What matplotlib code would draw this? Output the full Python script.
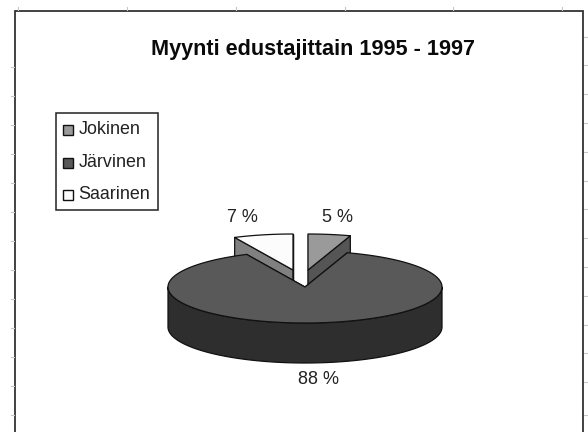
import numpy as np
import matplotlib
matplotlib.use("Agg")
import matplotlib.pyplot as plt
from matplotlib.patches import Polygon, Rectangle

names = ["Jokinen", "Järvinen", "Saarinen"]
values = [5, 88, 7]
pct_labels = ["5 %", "88 %", "7 %"]
title = "Myynti edustajittain 1995 - 1997"

top_colors = ["#9a9a9a", "#595959", "#fcfcfc"]
wall_colors = ["#555555", "#2e2e2e", "#808080"]
centers = [(308, 270), (305, 287), (293, 270)]
label_pos = [(337, 217), (318, 380), (242, 218)]
RX, RY, DEPTH = 137, 36, 40
EDGE = "#111111"

plt.rcParams["font.family"] = ["Liberation Sans", "DejaVu Sans"]
fig = plt.figure(figsize=(5.88, 4.32), dpi=100, facecolor="white")
ax = fig.add_axes([0, 0, 1, 1])
ax.set_xlim(0, 588)
ax.set_ylim(432, 0)
ax.axis("off")

# frame of the chart object and the sheet's faint grid stubs
ax.add_patch(Rectangle((15, 11), 568, 430, fc="white", ec="#333333", lw=1.3))
for x in (18, 127, 236, 345, 453, 562):
    ax.plot([x, x], [7, 10], color="#c8c8c8", lw=0.8)
for y in (67, 96, 125, 154, 183, 212, 241, 270, 299, 328, 357, 386, 415):
    ax.plot([11, 14], [y, y], color="#c8c8c8", lw=0.8)
for y in (37, 65, 94, 123, 152, 181, 209, 238, 267, 296, 325, 353, 382, 415):
    ax.plot([584, 588], [y, y], color="#c8c8c8", lw=0.8)

ax.text(313, 50, title, ha="center", va="center", fontsize=15.6, fontweight="bold", color="#0a0a0a")


def arc(c, a0, a1, dy=0):
    t = np.radians(np.linspace(a0, a1, max(int(abs(a1 - a0)) * 2, 2)))
    return np.column_stack([c[0] + RX * np.sin(t), c[1] + dy - RY * np.cos(t)])


ends = np.cumsum(values) / np.sum(values) * 360
starts = ends - np.array(values) / np.sum(values) * 360


def slice3d(i, zorder):
    c = centers[i]
    a0, a1 = starts[i], ends[i]
    kw = dict(ec=EDGE, lw=0.9, joinstyle="round", zorder=zorder)
    # cut faces, extruded downward
    for a in (a0, a1):
        p = arc(c, a, a + 0.01)[0]
        ax.add_patch(Polygon([c, p, (p[0], p[1] + DEPTH), (c[0], c[1] + DEPTH)],
                             fc=wall_colors[i], **kw))
    # visible front part of the rim
    lo, hi = max(a0, 90), min(a1, 270)
    if hi > lo:
        front = arc(c, lo, hi)
        ax.add_patch(Polygon(np.vstack([front, arc(c, lo, hi, DEPTH)[::-1]]),
                             fc=wall_colors[i], **kw))
    # top
    ax.add_patch(Polygon(np.vstack([[c], arc(c, a0, a1)]), fc=top_colors[i], **kw))


slice3d(0, 3)
slice3d(2, 3)
slice3d(1, 4)

for lab, (x, y) in zip(pct_labels, label_pos):
    ax.text(x, y, lab, ha="center", va="center", fontsize=13, color="#222222", zorder=6)

# legend
ax.add_patch(Rectangle((56, 113), 102, 97, fc="white", ec="#222222", lw=1.1, zorder=5))
for i, (name, y) in enumerate(zip(names, (130, 162.5, 194.5))):
    ax.add_patch(Rectangle((63, y - 5), 10, 10, fc=top_colors[i], ec=EDGE, lw=1.0, zorder=6))
    ax.text(78.5, y, name, ha="left", va="center", fontsize=12.9, color="#222222", zorder=6)

fig.savefig("out.png", dpi=100, facecolor="white")
